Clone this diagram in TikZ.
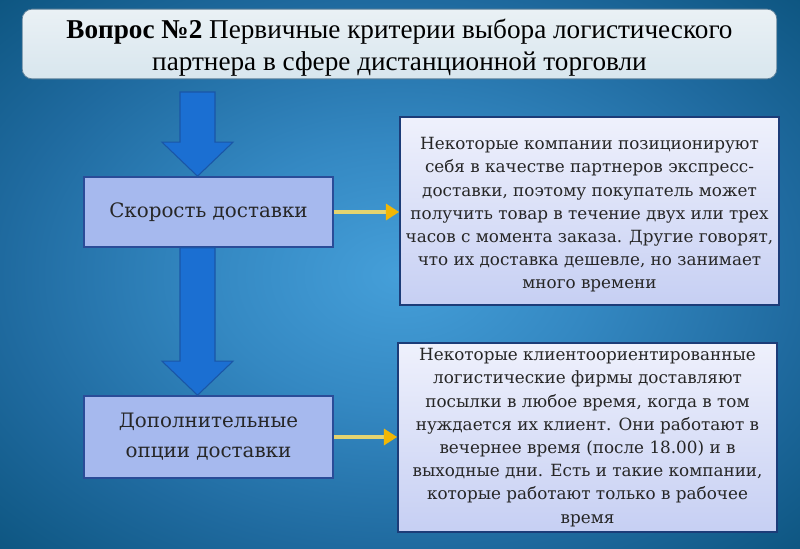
\documentclass[tikz,border=0pt]{standalone}
\usepackage{fontspec}
\setmainfont{Liberation Serif}
\newfontfamily\notefont{DejaVu Serif}
\usetikzlibrary{arrows.meta,calc,positioning}

\definecolor{bgin}{HTML}{459FD9}
\definecolor{bgmid}{HTML}{3488C2}
\definecolor{bgedge}{HTML}{1F6A9F}
\definecolor{bgout}{HTML}{0D5580}
\definecolor{titlefill}{HTML}{D8E6EE}
\definecolor{titletop}{HTML}{EAF1F5}
\definecolor{titleline}{HTML}{5A7E98}
\definecolor{critfill}{HTML}{A6B9EE}
\definecolor{critline}{HTML}{2A4C98}
\definecolor{notetop}{HTML}{EFF1FC}
\definecolor{notebot}{HTML}{C6CFF3}
\definecolor{noteline}{HTML}{1C3C78}
\definecolor{flowfill}{HTML}{1B6FD2}
\definecolor{flowline}{HTML}{1A56A6}
\definecolor{linkline}{HTML}{E4D470}
\definecolor{linktip}{HTML}{F2B705}

\pgfdeclareradialshading{slideglow}{\pgfpoint{0bp}{0bp}}{color(0bp)=(bgin); color(12bp)=(bgmid);
	color(25bp)=(bgedge); color(36bp)=(bgout); color(50bp)=(bgout)}

\begin{document}
\begin{tikzpicture}[x=0.75pt, y=-0.75pt,
	titlebox/.style={draw=titleline, line width=0.6pt, rounded corners=7.5pt, top color=titletop, bottom color=titlefill,
		minimum width=566pt, minimum height=51pt, inner sep=2pt, align=center, font=\fontsize{20.4}{24}\selectfont},
	critbox/.style={draw=critline, line width=1.2pt, fill=critfill, minimum width=186.75pt,
		align=center, font=\notefont\fontsize{14.9}{22.5}\selectfont, text=black!85},
	notebox/.style={draw=noteline, line width=1.2pt, top color=notetop, bottom color=notebot,
		minimum width=284.25pt, inner sep=1pt, align=center, font=\notefont\fontsize{12.6}{17.4}\selectfont, text=black!85},
	flow/.style={draw=flowline, line width=0.8pt, fill=flowfill},
	link/.style={draw=linkline, line width=3pt, -{Triangle[length=10pt, width=12pt, color=linktip]}}]
	% background
	\shade[shading=slideglow] (0,0) rectangle (800,549);
	\useasboundingbox (0,0) rectangle (800,549);
	% boxes
	\node[titlebox] (title) at (399.5,44) {\rule{0pt}{20pt}\textbf{Вопрос №2} Первичные критерии выбора логистического\\партнера в сфере дистанционной торговли};
	\node[critbox, minimum height=52.5pt] (speed) at (208.5,212) {Скорость доставки};
	\node[critbox, minimum height=61.5pt] (extra) at (208.5,437) {Дополнительные\\опции доставки};
	\node[notebox, minimum height=141pt] (note1) at (589.5,211) {\rule{0pt}{15pt}Некоторые компании позиционируют\\себя в качестве партнеров экспресс-\\доставки, поэтому покупатель может\\получить товар в течение двух или трех\\часов с момента заказа. Другие говорят,\\что их доставка дешевле, но занимает\\много времени};
	\node[notebox, minimum height=141.75pt] (note2) at (587.5,437.5) {Некоторые клиентоориентированные\\логистические фирмы доставляют\\посылки в любое время, когда в том\\нуждается их клиент. Они работают в\\вечернее время (после 18.00) и в\\выходные дни. Есть и такие компании,\\которые работают только в рабочее\\время};
	% block arrows down
	\coordinate (top1) at (197.5,92);
	\coordinate (tip1) at (top1 |- speed.north);
	\coordinate (top2) at (top1 |- speed.south);
	\coordinate (tip2) at (top1 |- extra.north);
	\foreach \a/\b in {top1/tip1, top2/tip2} {
		\draw[flow] ($(\a)+(-17.5,0)$) -- ($(\b)+(-17.5,-34)$) -- ($(\b)+(-35.5,-34)$) -- (\b)
			-- ($(\b)+(35.5,-34)$) -- ($(\b)+(17.5,-34)$) -- ($(\a)+(17.5,0)$) -- cycle;
	}
	% links to notes
	\draw[link] (speed.east) -- (note1.west |- speed.east);
	\draw[link] (extra.east) -- (note2.west |- extra.east);
\end{tikzpicture}
\end{document}
